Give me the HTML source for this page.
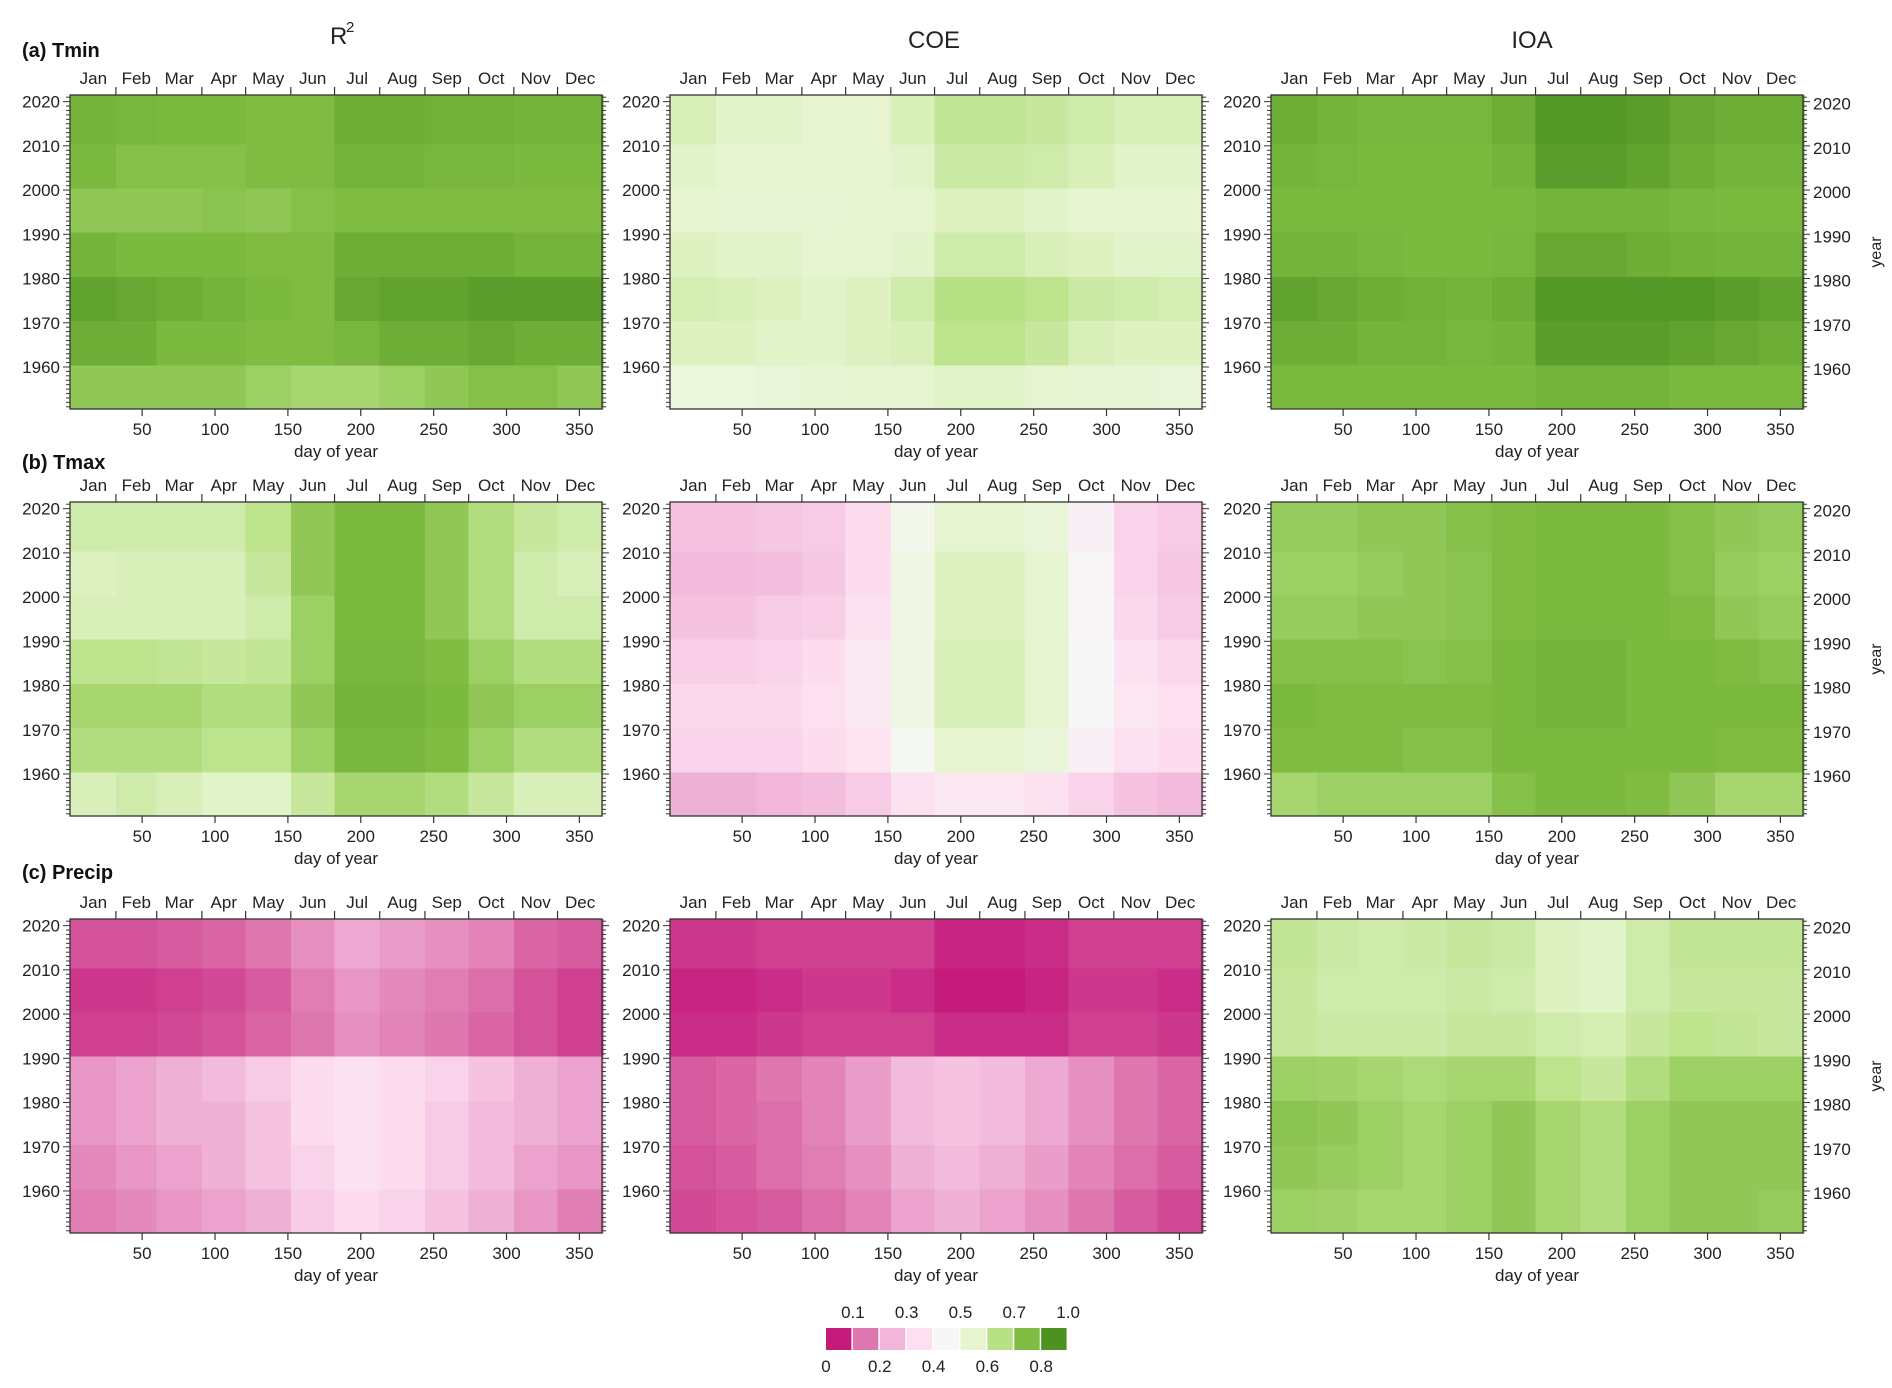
<!DOCTYPE html>
<html><head><meta charset="utf-8"><style>
html,body{margin:0;padding:0;background:#fff;}
svg{display:block;font-family:"Liberation Sans",sans-serif;}
</style></head><body>
<svg id="fig" width="1892" height="1388" viewBox="0 0 1892 1388" xmlns="http://www.w3.org/2000/svg"></svg>
<script>
// ---- data (value per month x year-band, bands oldest -> newest) ----
const months = ["Jan","Feb","Mar","Apr","May","Jun","Jul","Aug","Sep","Oct","Nov","Dec"];
const monthStarts = [1,32,60,91,121,152,182,213,244,274,305,335,366];
const bandStarts = [1951,1961,1971,1981,1991,2001,2011,2022];
const yearTicks = [1960,1970,1980,1990,2000,2010,2020];
const dayTicks = [50,100,150,200,250,300,350];
const metrics = ["R2","COE","IOA"];
const variables = ["(a) Tmin","(b) Tmax","(c) Precip"];
const legendUpper = ["0.1","0.3","0.5","0.7","1.0"];
const legendLower = ["0","0.2","0.4","0.6","0.8"];

const tminR2 = [
[0.72,0.72,0.72,0.72,0.70,0.68,0.68,0.70,0.72,0.74,0.74,0.72],
[0.80,0.80,0.76,0.76,0.75,0.75,0.77,0.80,0.80,0.82,0.80,0.80],
[0.84,0.82,0.80,0.78,0.76,0.75,0.82,0.84,0.84,0.86,0.86,0.86],
[0.78,0.76,0.76,0.76,0.75,0.75,0.80,0.80,0.80,0.80,0.78,0.78],
[0.72,0.72,0.72,0.73,0.72,0.74,0.75,0.75,0.75,0.75,0.75,0.75],
[0.76,0.74,0.74,0.74,0.75,0.75,0.78,0.78,0.77,0.77,0.76,0.76],
[0.78,0.77,0.76,0.76,0.75,0.75,0.80,0.80,0.79,0.79,0.78,0.78]];
const tminCOE = [
[0.52,0.52,0.53,0.54,0.55,0.55,0.56,0.56,0.55,0.54,0.54,0.53],
[0.57,0.57,0.56,0.56,0.57,0.58,0.64,0.64,0.62,0.58,0.57,0.57],
[0.59,0.58,0.57,0.56,0.57,0.60,0.65,0.65,0.64,0.61,0.60,0.59],
[0.57,0.56,0.56,0.55,0.55,0.56,0.60,0.60,0.58,0.57,0.56,0.56],
[0.55,0.54,0.54,0.54,0.55,0.55,0.57,0.57,0.56,0.55,0.55,0.55],
[0.56,0.55,0.55,0.55,0.55,0.56,0.61,0.61,0.60,0.58,0.56,0.56],
[0.58,0.56,0.56,0.55,0.55,0.58,0.63,0.63,0.62,0.60,0.58,0.58]];
const tminIOA = [
[0.76,0.76,0.76,0.76,0.76,0.76,0.78,0.78,0.78,0.76,0.76,0.76],
[0.80,0.80,0.78,0.78,0.77,0.78,0.86,0.86,0.86,0.84,0.82,0.80],
[0.84,0.82,0.80,0.79,0.78,0.80,0.88,0.88,0.88,0.88,0.86,0.84],
[0.78,0.78,0.77,0.76,0.76,0.77,0.82,0.82,0.80,0.79,0.78,0.78],
[0.76,0.76,0.76,0.76,0.76,0.76,0.78,0.78,0.78,0.77,0.76,0.76],
[0.78,0.77,0.76,0.76,0.76,0.78,0.86,0.86,0.84,0.80,0.78,0.78],
[0.80,0.78,0.77,0.77,0.77,0.80,0.88,0.88,0.86,0.82,0.80,0.80]];
const tmaxR2 = [
[0.58,0.60,0.58,0.56,0.56,0.62,0.68,0.68,0.66,0.62,0.58,0.58],
[0.66,0.66,0.66,0.64,0.64,0.70,0.77,0.77,0.75,0.70,0.66,0.66],
[0.68,0.68,0.68,0.66,0.66,0.72,0.78,0.78,0.76,0.72,0.70,0.70],
[0.64,0.64,0.63,0.62,0.63,0.70,0.77,0.77,0.75,0.70,0.66,0.66],
[0.58,0.58,0.58,0.58,0.60,0.70,0.76,0.76,0.72,0.66,0.60,0.60],
[0.57,0.58,0.58,0.58,0.62,0.72,0.76,0.76,0.72,0.66,0.60,0.58],
[0.60,0.60,0.60,0.60,0.64,0.72,0.76,0.76,0.72,0.66,0.62,0.60]];
const tmaxCOE = [
[0.24,0.24,0.25,0.27,0.30,0.36,0.38,0.38,0.36,0.32,0.28,0.26],
[0.32,0.32,0.32,0.34,0.37,0.46,0.55,0.55,0.53,0.42,0.36,0.34],
[0.33,0.33,0.33,0.35,0.39,0.50,0.58,0.58,0.55,0.45,0.38,0.35],
[0.31,0.31,0.32,0.34,0.39,0.50,0.58,0.58,0.55,0.45,0.36,0.33],
[0.28,0.28,0.30,0.31,0.36,0.50,0.57,0.57,0.55,0.44,0.33,0.30],
[0.26,0.26,0.27,0.29,0.34,0.50,0.57,0.57,0.55,0.44,0.32,0.29],
[0.28,0.28,0.29,0.30,0.34,0.48,0.55,0.55,0.53,0.42,0.32,0.30]];
const tmaxIOA = [
[0.68,0.70,0.70,0.70,0.70,0.74,0.76,0.76,0.75,0.72,0.68,0.68],
[0.75,0.75,0.75,0.74,0.74,0.76,0.76,0.76,0.76,0.76,0.75,0.75],
[0.76,0.75,0.75,0.75,0.75,0.76,0.78,0.78,0.76,0.76,0.76,0.76],
[0.74,0.74,0.74,0.73,0.74,0.76,0.78,0.78,0.76,0.76,0.75,0.74],
[0.71,0.71,0.72,0.72,0.73,0.75,0.76,0.76,0.76,0.75,0.72,0.71],
[0.70,0.70,0.71,0.72,0.73,0.75,0.76,0.76,0.76,0.74,0.71,0.70],
[0.71,0.71,0.72,0.72,0.74,0.75,0.76,0.76,0.76,0.74,0.72,0.71]];
const precipR2 = [
[0.16,0.18,0.20,0.22,0.24,0.30,0.34,0.32,0.28,0.24,0.20,0.16],
[0.18,0.20,0.22,0.24,0.28,0.32,0.36,0.34,0.30,0.26,0.22,0.20],
[0.20,0.22,0.24,0.24,0.28,0.34,0.36,0.34,0.30,0.26,0.24,0.22],
[0.20,0.22,0.24,0.26,0.30,0.34,0.36,0.34,0.32,0.28,0.24,0.22],
[0.09,0.09,0.10,0.11,0.13,0.15,0.19,0.17,0.15,0.13,0.11,0.09],
[0.08,0.08,0.09,0.10,0.12,0.16,0.20,0.18,0.16,0.14,0.11,0.09],
[0.11,0.11,0.12,0.13,0.15,0.19,0.23,0.21,0.19,0.17,0.13,0.12]];
const precipCOE = [
[0.10,0.11,0.12,0.14,0.17,0.22,0.24,0.22,0.19,0.15,0.12,0.10],
[0.11,0.12,0.14,0.16,0.19,0.24,0.26,0.24,0.21,0.17,0.14,0.12],
[0.12,0.13,0.14,0.17,0.21,0.26,0.28,0.26,0.23,0.19,0.15,0.13],
[0.12,0.13,0.15,0.17,0.21,0.26,0.28,0.26,0.23,0.19,0.15,0.13],
[0.07,0.07,0.08,0.09,0.09,0.09,0.07,0.07,0.07,0.09,0.09,0.08],
[0.06,0.06,0.07,0.08,0.08,0.07,0.05,0.05,0.06,0.08,0.08,0.07],
[0.08,0.08,0.09,0.09,0.09,0.09,0.06,0.06,0.07,0.09,0.09,0.09]];
const precipIOA = [
[0.70,0.69,0.68,0.68,0.70,0.72,0.68,0.66,0.70,0.72,0.72,0.71],
[0.72,0.71,0.70,0.68,0.70,0.72,0.68,0.66,0.70,0.72,0.72,0.72],
[0.73,0.72,0.70,0.68,0.70,0.72,0.68,0.66,0.70,0.72,0.72,0.72],
[0.70,0.69,0.68,0.67,0.68,0.68,0.64,0.62,0.66,0.70,0.70,0.70],
[0.62,0.61,0.61,0.61,0.62,0.62,0.60,0.59,0.62,0.64,0.63,0.62],
[0.62,0.60,0.60,0.60,0.61,0.60,0.57,0.56,0.60,0.62,0.62,0.62],
[0.63,0.61,0.60,0.61,0.62,0.61,0.57,0.56,0.60,0.63,0.63,0.63]];

const panelData = [[tminR2,tminCOE,tminIOA],[tmaxR2,tmaxCOE,tmaxIOA],[precipR2,precipCOE,precipIOA]];

// ---- layout ----
const colLeft = [70,670,1271];
const rowTop = [95,502,919];
const PW = 532, PH = 314;
const palette = ["#c51b7d","#de77ae","#f1b6da","#fde0ef","#f7f7f7","#e6f5d0","#b8e186","#7fbc41","#4d9221"];
const stopVals = [0.05,0.15,0.25,0.35,0.45,0.55,0.65,0.75,0.9];

const NS = "http://www.w3.org/2000/svg";
const svg = document.getElementById('fig');
function el(tag, attrs, parent, txt){
  const e = document.createElementNS(NS, tag);
  for (const k in attrs) e.setAttribute(k, attrs[k]);
  if (txt !== undefined) e.textContent = txt;
  (parent||svg).appendChild(e); return e;
}
function hex(h){return [1,3,5].map(i=>parseInt(h.substr(i,2),16));}
function colorOf(v){
  if (v<=stopVals[0]) return palette[0];
  for (let i=0;i<stopVals.length-1;i++){
    if (v<=stopVals[i+1]){
      const t=(v-stopVals[i])/(stopVals[i+1]-stopVals[i]);
      const a=hex(palette[i]), b=hex(palette[i+1]);
      return "rgb("+a.map((c,j)=>Math.round(c+(b[j]-c)*t)).join(",")+")";
    }
  }
  return palette[palette.length-1];
}
function xScale(day, c){ return colLeft[c] + (day-0.5)/365*PW; }
function yScale(year, r){ return rowTop[r] + (2021.5-year)/71*PH; }

const F = "font-size:17px;fill:#222";

for (let r=0;r<3;r++){
  for (let c=0;c<3;c++){
    const g = el('g',{}, svg);
    
    
    const data = panelData[r][c];
    for (let b=0;b<bandStarts.length-1;b++){
      for (let m=0;m<12;m++){
        const x0 = xScale(monthStarts[m], c) , x1 = xScale(monthStarts[m+1], c);
        const y0 = yScale(bandStarts[b+1]-0.5, r), y1 = yScale(bandStarts[b]-0.5, r);
        const rc = el('rect',{x:x0.toFixed(2),y:y0.toFixed(2),width:(x1-x0+0.6).toFixed(2),height:(y1-y0+0.6).toFixed(2),fill:colorOf(data[b][m]),'shape-rendering':'crispEdges'}, g);
        
        
      }
    }
    const L=colLeft[c], T=rowTop[r];
    const fr = el('rect',{x:L,y:T,width:PW,height:PH,fill:'none',stroke:'#333','stroke-width':1.3}, g);
    
    
    for (let y=1951;y<=2021;y++){
      const yy=yScale(y,r), maj=(y%10===0);
      el('line',{x1:L-(maj?7:4),x2:L,y1:yy,y2:yy,stroke:'#333','stroke-width':1},g);
      el('line',{x1:L+PW,x2:L+PW+(maj?7:4),y1:yy,y2:yy,stroke:'#333','stroke-width':1},g);
    }
    yearTicks.forEach(y=>{
      const t = el('text',{x:L-10,y:yScale(y,r)+6,'text-anchor':'end',style:F},g,String(y));
      
      
      if (c===2){
        const t2 = el('text',{x:L+PW+10,y:yScale(y,r)+8,'text-anchor':'start',style:F},g,String(y));
        
        
      }
    });
    for (let m=1;m<12;m++){
      const xx=xScale(monthStarts[m],c);
      el('line',{x1:xx,x2:xx,y1:T-8,y2:T,stroke:'#333','stroke-width':1.2},g);
    }
    months.forEach((mn,m)=>{
      const xm = (xScale(monthStarts[m],c)+xScale(monthStarts[m+1],c))/2;
      const t = el('text',{x:xm,y:T-11,'text-anchor':'middle',style:F},g,mn);
      
      
    });
    dayTicks.forEach(d=>{
      const xx=xScale(d,c);
      el('line',{x1:xx,x2:xx,y1:T+PH,y2:T+PH+7,stroke:'#333','stroke-width':1.2},g);
      const t = el('text',{x:xx,y:T+PH+26,'text-anchor':'middle',style:F},g,String(d));
      
      
    });
    const xt = el('text',{x:L+PW/2,y:T+PH+48,'text-anchor':'middle',style:F},g,'day of year');
    
    
    if (c===2){
      const yt = el('text',{x:0,y:0,'text-anchor':'middle',style:"font-size:16px;fill:#222",transform:`translate(${L+PW+78},${T+PH/2}) rotate(-90)`},g,'year');
      
      
    }
  }
  const rt = el('text',{x:22,y:[57,469,879][r],style:"font-size:20px;font-weight:bold;fill:#111"},svg,variables[r]);
  
  
}
const ct1 = el('text',{x:330,y:44,style:"font-size:24px;fill:#222"},svg,'R');


el('text',{x:346,y:32,style:"font-size:15px;fill:#222"},svg,'2');
const ct2 = el('text',{x:934,y:48,'text-anchor':'middle',style:"font-size:24px;fill:#222"},svg,'COE');


const ct3 = el('text',{x:1532,y:48,'text-anchor':'middle',style:"font-size:24px;fill:#222"},svg,'IOA');



const lg = el('g',{},svg);


const LX=826, LW=26.9, LY=1328, LH=22;
palette.forEach((p,i)=>{
  const rr = el('rect',{x:LX+i*LW,y:LY,width:LW-1.5,height:LH,fill:p},lg);
  
  
});
legendUpper.forEach((s,i)=>{
  const xx = i<4 ? LX+(2*i+1)*LW : LX+9*LW;
  const t = el('text',{x:xx,y:LY-10,'text-anchor':'middle',style:F},lg,s);
  
  
});
legendLower.forEach((s,i)=>{
  const t = el('text',{x:LX+2*i*LW,y:LY+LH+22,'text-anchor':'middle',style:F},lg,s);
  
  
});
</script>
</body></html>
